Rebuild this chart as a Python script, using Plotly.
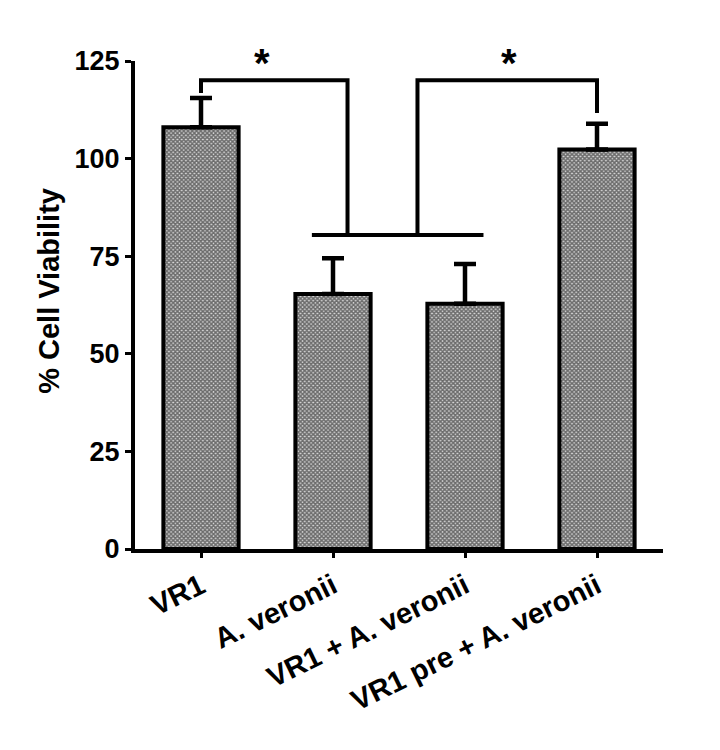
import plotly.graph_objects as go

groups = ["VR1", "A. veronii", "VR1 + A. veronii", "VR1 pre + A. veronii"]
viability = [108.0, 65.3, 62.8, 102.3]
sem = [7.5, 9.2, 10.2, 6.6]
y_ticks = [0, 25, 50, 75, 100, 125]

FONT = "Arial, Liberation Sans, sans-serif"

bars = go.Bar(
    x=list(range(len(groups))),
    y=viability,
    width=0.57,
    marker=dict(
        color="white",
        line=dict(color="black", width=4),
        pattern=dict(shape="x", size=3, solidity=0.75, fgcolor="black", bgcolor="#d8d8d8"),
    ),
    error_y=dict(type="data", array=sem, arrayminus=[0] * len(sem), symmetric=False,
                 thickness=4.5, width=11, color="black"),
)

fig = go.Figure(data=[bars])

# significance brackets
top = 120.1
low = 80.4
line = dict(color="black", width=4)
shapes = [
    dict(type="path", path=f"M 0,116.8 L 0,{top} L 1.11,{top} L 1.11,{low}", line=line),
    dict(type="line", x0=0.84, x1=2.14, y0=low, y1=low, line=line),
    dict(type="path", path=f"M 1.64,{low} L 1.64,{top} L 3,{top} L 3,111.7", line=line),
]
for s in shapes:
    s.update(xref="x", yref="y", layer="above")

fig.update_layout(
    width=720, height=750,
    margin=dict(l=127, r=65, t=53, b=209),
    plot_bgcolor="white", paper_bgcolor="white",
    showlegend=False,
    shapes=shapes,
    font=dict(family=FONT, color="black"),
    annotations=[
        dict(x=0.46, y=124.5, text="<b>*</b>", showarrow=False, xref="x", yref="y",
             font=dict(size=40, family=FONT, color="black")),
        dict(x=2.33, y=124.5, text="<b>*</b>", showarrow=False, xref="x", yref="y",
             font=dict(size=40, family=FONT, color="black")),
        dict(x=-0.162, y=0.53, xref="paper", yref="paper", text="<b>% Cell Viability</b>",
             textangle=-90, showarrow=False, xanchor="center", yanchor="middle",
             font=dict(size=29, family=FONT, color="black")),
    ],
)

fig.update_xaxes(
    range=[-0.5, 3.5],
    tickvals=list(range(len(groups))),
    ticktext=[f"<b>{g}</b>" for g in groups],
    tickangle=-26,
    tickfont=dict(size=29, family=FONT, color="black"),
    showline=True, linewidth=4, linecolor="black",
    ticks="outside", ticklen=5, tickwidth=3, tickcolor="black",
    showgrid=False, zeroline=False,
)
fig.update_yaxes(
    range=[0, 125],
    tickvals=y_ticks,
    ticktext=[f"<b>{t}</b>" for t in y_ticks],
    tickfont=dict(size=27, family=FONT, color="black"),
    showline=True, linewidth=4, linecolor="black",
    ticks="outside", ticklen=6, tickwidth=3, tickcolor="black",
    showgrid=False, zeroline=False,
)

fig.write_html("out.html")
